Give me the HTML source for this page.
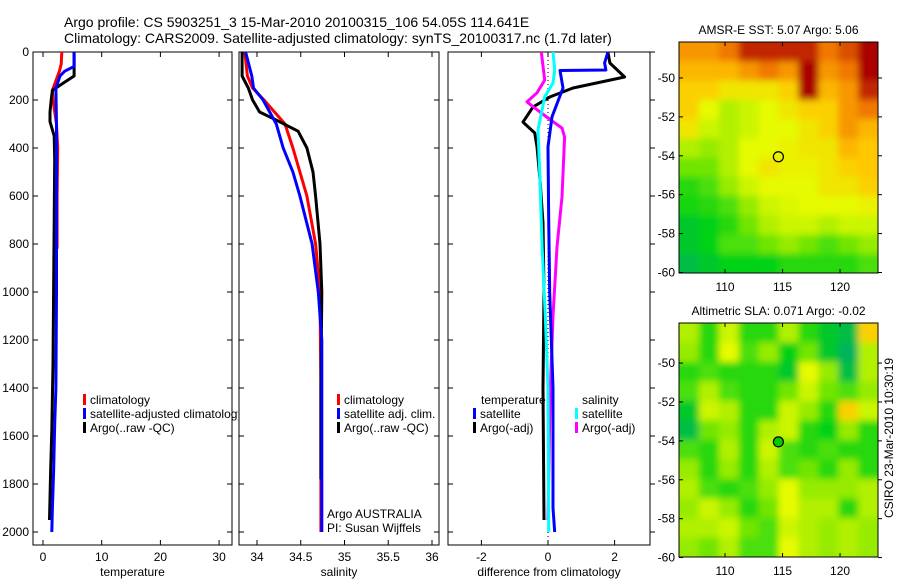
<!DOCTYPE html>
<html><head><meta charset="utf-8"><style>
html,body{margin:0;padding:0;background:#fff;}
svg{display:block;font-family:"Liberation Sans",sans-serif;}
</style></head><body>
<svg id="c" width="900" height="580" viewBox="0 0 900 580">
<defs><filter id="bl" x="-5%" y="-5%" width="110%" height="110%"><feGaussianBlur stdDeviation="3.5"/></filter></defs>
<g id="maps"></g>
<g id="plots"></g>
<text x="64" y="27" font-size="14">Argo profile: CS 5903251_3 15-Mar-2010 20100315_106 54.05S 114.641E</text>
<text x="64" y="43" font-size="14">Climatology: CARS2009. Satellite-adjusted climatology: synTS_20100317.nc (1.7d later)</text>
<text transform="translate(893,438) rotate(-90)" font-size="12" text-anchor="middle">CSIRO 23-Mar-2010 10:30:19</text>
</svg>
<script>
// ---------- data ----------
const tempClimDepth=[0,50,80,120,160,200,300,400,600,820];
const tempClim=[3.2,3.1,2.8,2.2,1.6,1.7,2.3,2.5,2.4,2.4];
const tempSatDepth=[0,60,80,100,150,300,600,1000,1400,1550,1750,1900,2000];
const tempSat=[5.3,5.3,3.7,2.9,2.2,2.3,2.3,2.3,2.2,2.0,1.8,1.6,1.5];
const tempArgoDepth=[0,100,130,160,200,250,290,350,450,700,1000,1300,1580,1750,1950];
const tempArgo=[5.3,5.3,3.4,1.6,1.4,1.2,1.2,1.9,2.0,1.9,1.8,1.7,1.5,1.3,1.1];

const salClimDepth=[0,100,150,200,300,400,500,600,800,1000,1400,2000];
const salClim=[33.86,33.89,33.95,34.08,34.32,34.41,34.49,34.57,34.67,34.72,34.73,34.73];
const salSatDepth=[0,100,150,200,300,400,500,600,800,1000,1200,2000];
const salSat=[33.87,33.94,33.96,34.07,34.22,34.30,34.41,34.49,34.63,34.70,34.74,34.74];
const salArgoDepth=[0,100,150,200,250,280,330,400,500,600,800,1000,1400,1780];
const salArgo=[33.83,33.83,33.90,33.95,34.03,34.20,34.47,34.57,34.64,34.67,34.72,34.74,34.73,34.73];

const dTempSatDepth=[0,46,75,77,150,270,395,700,1000,1400,1900,2000];
const dTempSat=[1.8,1.7,1.74,0.36,0.45,0.12,0.0,0.02,0.05,0.15,0.15,0.2];
const dTempArgoDepth=[0,46,104,150,187,229,292,337,395,533,712,1000,1400,1950];
const dTempArgo=[1.8,1.86,2.3,0.75,0.06,-0.45,-0.75,-0.4,-0.33,-0.24,-0.15,-0.12,-0.15,-0.12];
const dSalSatDepth=[0,75,129,187,325,533,800,1100,1400,2000];
const dSalSat=[0.15,0.2,0.15,-0.1,-0.3,-0.24,-0.18,-0.08,0.0,0.02];
const dSalArgoDepth=[0,117,170,208,233,275,317,354,604,812,1100,1450,1950];
const dSalArgo=[-0.2,-0.1,-0.33,-0.63,-0.4,0.0,0.42,0.5,0.42,0.27,0.15,0.06,0.0];

const depthTicks=[0,200,400,600,800,1000,1200,1400,1600,1800,2000];
const tempTicks=[0,10,20,30];
const salTicks=[34,34.5,35,35.5,36];
const diffTicks=[-2,0,2];
const lonTicks=[110,115,120];
const latTicks=[-50,-52,-54,-56,-58,-60];

const sstGrid=[
[0.8,0.8,0.85,0.95,0.95,0.95,0.95,0.85,0.9,1.0],
[0.75,0.75,0.75,0.8,0.85,0.8,1.0,0.8,0.85,1.0],
[0.7,0.7,0.65,0.65,0.65,0.7,1.0,0.75,0.8,0.95],
[0.7,0.6,0.5,0.55,0.6,0.65,0.7,0.7,0.8,0.85],
[0.65,0.55,0.5,0.55,0.6,0.6,0.65,0.7,0.8,0.75],
[0.5,0.45,0.5,0.6,0.6,0.62,0.65,0.65,0.75,0.72],
[0.4,0.4,0.5,0.6,0.65,0.62,0.62,0.65,0.7,0.72],
[0.3,0.35,0.45,0.55,0.6,0.6,0.6,0.65,0.65,0.7],
[0.28,0.3,0.35,0.45,0.55,0.58,0.6,0.6,0.6,0.62],
[0.2,0.25,0.3,0.4,0.5,0.55,0.55,0.5,0.55,0.55],
[0.2,0.25,0.35,0.35,0.4,0.45,0.4,0.35,0.4,0.45],
[0.15,0.2,0.25,0.25,0.25,0.3,0.3,0.3,0.3,0.35]];
const slaGrid=[
[0.5,0.3,0.55,0.3,0.3,0.5,0.3,0.2,0.15,0.7],
[0.45,0.3,0.6,0.35,0.45,0.25,0.4,0.2,0.1,0.5],
[0.3,0.35,0.3,0.3,0.3,0.2,0.6,0.45,0.15,0.5],
[0.35,0.5,0.35,0.3,0.3,0.4,0.55,0.4,0.35,0.45],
[0.2,0.55,0.5,0.3,0.3,0.55,0.45,0.3,0.7,0.55],
[0.15,0.4,0.45,0.3,0.5,0.55,0.3,0.25,0.45,0.3],
[0.35,0.3,0.5,0.3,0.55,0.35,0.3,0.35,0.3,0.3],
[0.45,0.3,0.45,0.3,0.5,0.35,0.4,0.3,0.45,0.3],
[0.5,0.35,0.3,0.35,0.45,0.6,0.45,0.45,0.45,0.5],
[0.45,0.55,0.45,0.3,0.4,0.6,0.5,0.5,0.3,0.5],
[0.5,0.5,0.55,0.4,0.35,0.55,0.5,0.45,0.5,0.45],
[0.45,0.4,0.5,0.35,0.35,0.6,0.5,0.45,0.5,0.45]];
const argoLon=114.64, argoLat=-54.05;

// ---------- helpers ----------
const NS="http://www.w3.org/2000/svg";
const plots=document.getElementById('plots');
const maps=document.getElementById('maps');
function mk(tag,attrs,parent){const e=document.createElementNS(NS,tag);for(const k in attrs)e.setAttribute(k,attrs[k]);parent.appendChild(e);return e;}
const TOP=52,BOT=545;
const yD=d=>TOP+d*0.24;

function panel(name,x0,x1,xv0,pxPer,ticks,xlabel,showY,rightTicksOut){
  const xs=v=>xv0+(v)*pxPer;
  const g=mk('g',{},plots);
  
  
  const r=mk('rect',{x:x0,y:TOP,width:x1-x0,height:BOT-TOP,fill:'none',stroke:'#000','stroke-width':1},g);
  
  
  ticks.forEach(t=>{const x=xs(t);
    mk('line',{x1:x,x2:x,y1:BOT,y2:BOT-5,stroke:'#000'},g);
    mk('line',{x1:x,x2:x,y1:TOP,y2:TOP+5,stroke:'#000'},g);
    const tx=mk('text',{x:x,y:BOT+16,'font-size':12,'text-anchor':'middle'},g);tx.textContent=String(t);
    
    
  });
  depthTicks.forEach(d=>{const y=yD(d);
    mk('line',{x1:x0,x2:x0+5,y1:y,y2:y,stroke:'#000'},g);
    if(rightTicksOut) mk('line',{x1:x1,x2:x1+5,y1:y,y2:y,stroke:'#000'},g);
    else mk('line',{x1:x1,x2:x1-5,y1:y,y2:y,stroke:'#000'},g);
    if(showY){const tx=mk('text',{x:x0-4,y:y+4,'font-size':12,'text-anchor':'end'},g);tx.textContent=d;
      
      }
  });
  const lb=mk('text',{x:(x0+x1)/2,y:576,'font-size':12,'text-anchor':'middle'},g);lb.textContent=xlabel;
  
  
  return {g,xs};
}
function series(p,name,vals,depths,color){
  let d='';
  for(let i=0;i<vals.length;i++){
    const x=p.xs(vals[i]).toFixed(1),y=yD(depths[i]).toFixed(1);
    d+=(i?'L':'M')+x+' '+y;
  }
  const e=mk('path',{d:d,fill:'none',stroke:color,'stroke-width':3,'stroke-linejoin':'round'},p.g);
  
  
}
function legend(g,name,x,y,color,label){
  const lg=mk('g',{},g);
  
  
  mk('rect',{x:x,y:y-10,width:3,height:11,fill:color},lg);
  const t=mk('text',{x:x+7,y:y,'font-size':12},lg);t.textContent=label;
}
function txt(g,name,x,y,s){const t=mk('text',{x:x,y:y,'font-size':12},g);t.textContent=s;
  
  }

// temperature panel
const p1=panel('temperature-panel',33,232,43,5.87,tempTicks,'temperature',true,false);
series(p1,'temp-climatology-line',tempClim,tempClimDepth,'#f00');
series(p1,'temp-argo-line',tempArgo,tempArgoDepth,'#000');
series(p1,'temp-satellite-line',tempSat,tempSatDepth,'#00f');
const c1=mk('clipPath',{id:'cl1'},p1.g);mk('rect',{x:33,y:0,width:205,height:580},c1);
const lg1=mk('g',{'clip-path':'url(#cl1)'},p1.g);
legend(lg1,'legend-climatology',83,404,'#f00','climatology');
legend(lg1,'legend-satellite-adjusted',83,418,'#00f','satellite-adjusted climatology');
legend(lg1,'legend-argo',83,432,'#000','Argo(..raw -QC)');

// salinity panel
const p2=panel('salinity-panel',239,439,257-34*87.5,87.5,salTicks,'salinity',false,false);
series(p2,'sal-climatology-line',salClim,salClimDepth,'#f00');
series(p2,'sal-argo-line',salArgo,salArgoDepth,'#000');
series(p2,'sal-satellite-line',salSat,salSatDepth,'#00f');
legend(p2.g,'legend-sal-climatology',337,404,'#f00','climatology');
legend(p2.g,'legend-sal-satellite',337,418,'#00f','satellite adj. clim.');
legend(p2.g,'legend-sal-argo',337,432,'#000','Argo(..raw -QC)');
txt(p2.g,'argo-australia-label',327,518,'Argo AUSTRALIA');
txt(p2.g,'pi-label',327,532,'PI: Susan Wijffels');

// difference panel
const p3=panel('difference-panel',448,650,548,33.3,diffTicks,'difference from climatology',false,true);
const z=mk('line',{x1:548,x2:548,y1:TOP,y2:BOT,stroke:'#000','stroke-dasharray':'1 3'},p3.g);


series(p3,'diff-temp-argo-line',dTempArgo,dTempArgoDepth,'#000');
series(p3,'diff-sal-argo-line',dSalArgo,dSalArgoDepth,'#f0f');
series(p3,'diff-sal-satellite-line',dSalSat,dSalSatDepth,'#0ff');
series(p3,'diff-temp-satellite-line',dTempSat,dTempSatDepth,'#00f');
txt(p3.g,'legend-temperature-heading',481,404,'temperature');
legend(p3.g,'legend-temp-satellite',473,418,'#00f','satellite');
legend(p3.g,'legend-temp-argo',473,432,'#000','Argo(-adj)');
txt(p3.g,'legend-salinity-heading',582,404,'salinity');
legend(p3.g,'legend-sal-satellite-diff',575,418,'#0ff','satellite');
legend(p3.g,'legend-sal-argo-diff',575,432,'#f0f','Argo(-adj)');

// ---------- maps ----------
function cmap(v){
  const stops=[[0,[0,160,140]],[0.25,[0,210,20]],[0.45,[150,235,0]],[0.6,[230,250,0]],[0.72,[255,200,0]],[0.85,[240,120,0]],[1,[170,0,0]]];
  for(let i=1;i<stops.length;i++){if(v<=stops[i][0]){const a=stops[i-1],b=stops[i];const t=(v-a[0])/(b[0]-a[0]);
    return 'rgb('+a[1].map((c,k)=>Math.round(c+(b[1][k]-c)*t)).join(',')+')';}}
  return 'rgb(170,0,0)';
}
function map(name,grid,x0,x1,y0,y1,latTop,title,filled){
  const lonL=106,lonR=123.3;
  const xs=lon=>x0+(lon-lonL)/(lonR-lonL)*(x1-x0);
  const ys=lat=>y0+(latTop-lat)*19.45;
  const g=mk('g',{},maps);
  
  
  const cid=name+'-clip';
  const cp=mk('clipPath',{id:cid},g);mk('rect',{x:x0,y:y0,width:x1-x0,height:y1-y0},cp);
  const outer=mk('g',{'clip-path':'url(#'+cid+')'},g);
  const cg=mk('g',{filter:'url(#bl)'},outer);
  const rows=grid.length,cols=grid[0].length;
  const cw=(x1-x0)/cols,ch=(y1-y0)/rows;
  grid.forEach((row,r)=>row.forEach((v,c)=>{
    let x=x0+c*cw,y=y0+r*ch,w=cw+0.6,h=ch+0.6;
    if(c===0){x-=8;w+=8;} if(c===cols-1){w+=8;}
    if(r===0){y-=8;h+=8;} if(r===rows-1){h+=8;}
    const e=mk('rect',{x:x.toFixed(1),y:y.toFixed(1),width:w.toFixed(1),height:h.toFixed(1),fill:cmap(v)},cg);
    
    
  }));
  mk('rect',{x:x0,y:y0,width:x1-x0,height:y1-y0,fill:'none',stroke:'#000'},g);
  lonTicks.forEach(l=>{const x=xs(l);
    mk('line',{x1:x,x2:x,y1:y1,y2:y1-4,stroke:'#000'},g);
    mk('line',{x1:x,x2:x,y1:y0,y2:y0+4,stroke:'#000'},g);
    const t=mk('text',{x:x,y:y1+18,'font-size':12,'text-anchor':'middle'},g);t.textContent=l;
    
    
  });
  latTicks.forEach(l=>{const y=ys(l);
    mk('line',{x1:x0,x2:x0+4,y1:y,y2:y,stroke:'#000'},g);
    mk('line',{x1:x1,x2:x1+4,y1:y,y2:y,stroke:'#000'},g);
    const t=mk('text',{x:x0-4,y:y+4,'font-size':12,'text-anchor':'end'},g);t.textContent=l;
    
    
  });
  const tt=mk('text',{x:(x0+x1)/2,y:y0-8,'font-size':12,'text-anchor':'middle'},g);tt.textContent=title;
  
  
  const m=mk('circle',{cx:xs(argoLon),cy:ys(argoLat),r:5,fill:filled?'#0c0':'none',stroke:'#000','stroke-width':1.2},g);
  
  
}
map('sst-map',sstGrid,679,878,42,273,-48.15,'AMSR-E SST: 5.07 Argo: 5.06',false);
map('sla-map',slaGrid,679,878,323,557,-47.94,'Altimetric SLA: 0.071 Argo: -0.02',true);
</script>
</body></html>
